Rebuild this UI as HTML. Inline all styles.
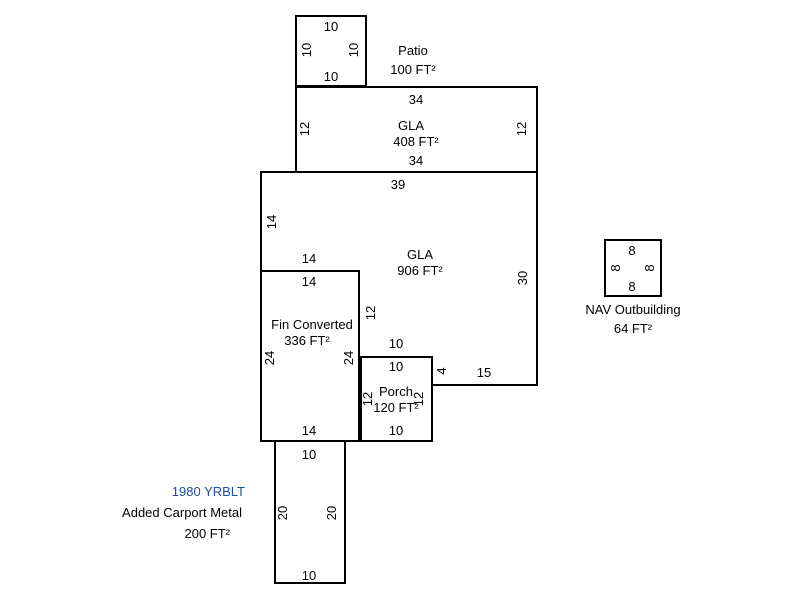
<!DOCTYPE html>
<html><head><style>body{margin:0;background:#fff}svg{display:block}text{font-family:"Liberation Sans",Arial,sans-serif;font-size:13px;fill:#000}</style></head><body>
<svg width="800" height="600" xmlns="http://www.w3.org/2000/svg">
<g fill="none" stroke="#000" stroke-width="2">
<rect x="296" y="16" width="70" height="70"/>
<rect x="296" y="87" width="241" height="85"/>
<polyline points="261,271 261,172 537,172 537,385 432,385 432,357"/>
<rect x="261" y="271" width="98" height="170"/>
<rect x="361" y="357" width="71" height="84"/>
<line x1="359" y1="441" x2="361" y2="441"/>
<rect x="275" y="441" width="70" height="142"/>
<rect x="605" y="240" width="56" height="56"/>
</g>
<g text-anchor="middle">
<text x="331" y="31">10</text><text x="331" y="81">10</text>
<text transform="translate(311,50) rotate(-90)">10</text>
<text transform="translate(358,50) rotate(-90)">10</text>
<text x="413" y="55">Patio</text><text x="413" y="74">100 FT²</text>
<text x="416" y="104">34</text><text x="411" y="130">GLA</text><text x="416" y="146">408 FT²</text><text x="416" y="165">34</text>
<text transform="translate(309,129) rotate(-90)">12</text>
<text transform="translate(526,129) rotate(-90)">12</text>
<text x="398" y="189">39</text>
<text transform="translate(276,222) rotate(-90)">14</text>
<text x="309" y="263">14</text>
<text x="420" y="259">GLA</text><text x="420" y="275">906 FT²</text>
<text transform="translate(527,278) rotate(-90)">30</text>
<text x="309" y="286">14</text>
<text x="312" y="329">Fin Converted</text><text x="307" y="345">336 FT²</text>
<text transform="translate(375,313) rotate(-90)">12</text>
<text transform="translate(274,358) rotate(-90)">24</text>
<text transform="translate(353,358) rotate(-90)">24</text>
<text x="396" y="348">10</text><text x="396" y="371">10</text>
<text transform="translate(446,371) rotate(-90)">4</text>
<text x="484" y="377">15</text>
<text x="396" y="396">Porch</text><text x="396" y="412">120 FT²</text>
<text transform="translate(372,399) rotate(-90)">12</text>
<text transform="translate(423,399) rotate(-90)">12</text>
<text x="309" y="435">14</text><text x="396" y="435">10</text>
<text x="309" y="459">10</text>
<text transform="translate(287,513) rotate(-90)">20</text>
<text transform="translate(336,513) rotate(-90)">20</text>
<text x="309" y="580">10</text>
<text x="632" y="255">8</text><text x="632" y="291">8</text>
<text transform="translate(620,268) rotate(-90)">8</text>
<text transform="translate(654,268) rotate(-90)">8</text>
<text x="633" y="314">NAV Outbuilding</text><text x="633" y="333">64 FT²</text>
</g>
<text x="245" y="496" text-anchor="end" style="fill:#1f4e9a">1980 YRBLT</text>
<text x="242" y="517" text-anchor="end">Added Carport Metal</text>
<text x="230" y="538" text-anchor="end">200 FT²</text>
</svg>
</body></html>
